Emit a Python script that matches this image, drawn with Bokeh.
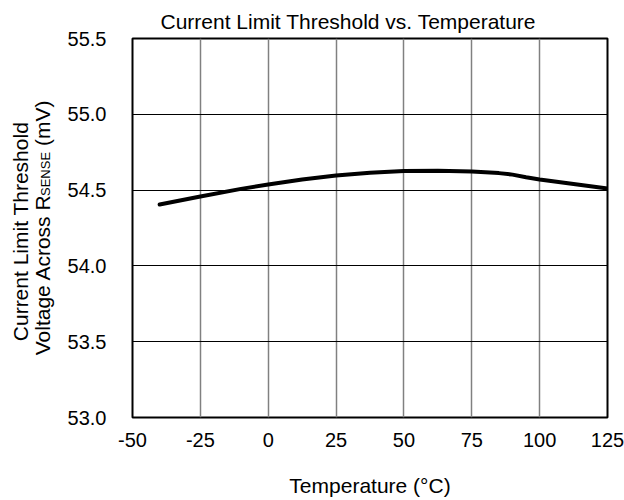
import math
from bokeh.plotting import figure
from bokeh.layouts import row
from bokeh.models import Range1d, FixedTicker, Label
from bokeh.embed import file_html
from bokeh.resources import INLINE

# ---------------- data ----------------
temperature_c = [-40, -25, -10, 0, 12.5, 25, 37.5, 50, 62.5, 75, 85, 90, 95, 100, 112.5, 125]
threshold_mv = [54.405, 54.458, 54.508, 54.537, 54.570, 54.597, 54.615, 54.626,
                54.628, 54.622, 54.612, 54.602, 54.585, 54.570, 54.540, 54.510]
x_ticks = [-50, -25, 0, 25, 50, 75, 100, 125]
y_ticks = [53.0, 53.5, 54.0, 54.5, 55.0, 55.5]
x_tick_labels = ["-50", "-25", "0", "25", "50", "75", "100", "125"]
y_tick_labels = ["53.0", "53.5", "54.0", "54.5", "55.0", "55.5"]
title_text = "Current Limit Threshold vs. Temperature"
x_label = "Temperature (°C)"
y_label_1 = "Current Limit Threshold"
y_label_2a = "Voltage Across R"
y_label_2b = "SENSE"
y_label_2c = "(mV)"

XMIN, XMAX = -50, 125
YMIN, YMAX = 53.0, 55.5
FONT = "Liberation Sans"
LEFT_W = 62          # width of the strip carrying the rotated y-axis title
TOTAL_W, TOTAL_H = 624, 500
FT, FB = 38, 417     # frame top / bottom in page pixels

# ---------------- main chart ----------------
p = figure(width=TOTAL_W - LEFT_W, height=TOTAL_H, output_backend="svg", toolbar_location=None,
           x_range=Range1d(XMIN, XMAX), y_range=Range1d(YMIN, YMAX),
           min_border_left=132 - LEFT_W, min_border_right=17, min_border_top=FT,
           min_border_bottom=TOTAL_H - FB)
p.background_fill_color = "white"
p.border_fill_color = "white"
p.outline_line_color = "black"
p.outline_line_width = 2

p.title.text = title_text
p.title.text_font = FONT
p.title.text_font_size = "21px"
p.title.text_font_style = "normal"
p.title.text_color = "black"
p.title.align = "left"
p.title.offset = 28
p.title.standoff = 12

p.xaxis.ticker = FixedTicker(ticks=x_ticks)
p.yaxis.ticker = FixedTicker(ticks=y_ticks)
p.xaxis.major_label_overrides = dict(zip(x_ticks, x_tick_labels))
p.yaxis.major_label_overrides = dict(zip(y_ticks, y_tick_labels))
for ax in (p.xaxis, p.yaxis):
    ax.axis_line_color = None
    ax.major_tick_line_color = None
    ax.minor_tick_line_color = None
    ax.major_tick_out = 0
    ax.major_tick_in = 0
    ax.major_label_text_font = FONT
    ax.major_label_text_font_size = "20px"
    ax.major_label_text_color = "black"
p.xaxis.major_label_standoff = 15
p.yaxis.major_label_standoff = 26

p.xaxis.axis_label = x_label
p.xaxis.axis_label_text_font = FONT
p.xaxis.axis_label_text_font_size = "21px"
p.xaxis.axis_label_text_font_style = "normal"
p.xaxis.axis_label_text_color = "black"
p.xaxis.axis_label_standoff = 24

p.xgrid.grid_line_color = "#808080"
p.xgrid.grid_line_width = 1.5
p.ygrid.grid_line_color = "black"
p.ygrid.grid_line_width = 1

p.line(temperature_c, threshold_mv, line_color="black", line_width=4, line_cap="round")

# ---------------- y-axis title strip ----------------
# the row aligns this strip's frame with the chart frame, so share the same y scale
s = figure(width=LEFT_W, height=TOTAL_H, output_backend="svg", toolbar_location=None,
           x_range=Range1d(0, LEFT_W), y_range=Range1d(YMIN, YMAX),
           x_axis_location=None, y_axis_location=None,
           min_border_left=0, min_border_right=0, min_border_top=FT, min_border_bottom=TOTAL_H - FB)
s.title = None
s.outline_line_color = None
s.background_fill_color = "white"
s.border_fill_color = "white"
s.xgrid.visible = False
s.ygrid.visible = False


def dy(py):
    return YMAX - (py - FT) * (YMAX - YMIN) / (FB - FT)


s.add_layout(Label(x=20, y=dy(231), text=y_label_1, text_align="center",
                   text_baseline="alphabetic", angle=math.pi / 2, text_font=FONT,
                   text_font_size="21px", text_color="black"))
s.add_layout(Label(x=42, y=dy(354.8), text=y_label_2a, text_align="left",
                   text_baseline="alphabetic", angle=math.pi / 2, text_font=FONT,
                   text_font_size="21px", text_color="black"))
s.add_layout(Label(x=45, y=dy(195.5), text=y_label_2b, text_align="left",
                   text_baseline="alphabetic", angle=math.pi / 2, text_font=FONT,
                   text_font_size="13px", text_color="black"))
s.add_layout(Label(x=42, y=dy(145.5), text=y_label_2c, text_align="left",
                   text_baseline="alphabetic", angle=math.pi / 2, text_font=FONT,
                   text_font_size="21px", text_color="black"))

layout = row(s, p, spacing=0)
open("out.html", "w").write(file_html(layout, INLINE))
